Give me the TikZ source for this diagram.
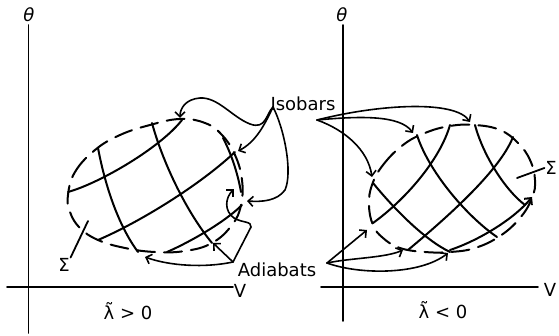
\documentclass[tikz,border=0pt]{standalone}
\usepackage{fontspec}
\setmainfont{DejaVu Sans}
\usetikzlibrary{arrows.meta}
\begin{document}
\begin{tikzpicture}[x=1pt,y=-1pt,line width=1.8pt,line cap=round,
      every node/.style={font=\fontsize{18}{21}\selectfont,inner sep=0pt},
      gridline/.style={line width=2pt},
      border/.style={line width=2pt,dash pattern=on 18pt off 9pt},
      arrow/.style={-{Straight Barb[length=5pt,width=10pt]},line width=1.6pt}]
  \useasboundingbox (0,0) rectangle (559,336);
  % axes
  \draw (7,287) -- (233,287);
  \draw (28.5,25) -- (28.5,333);
  \draw (321,287) -- (538,287);
  \draw (343,25) -- (343,321);
  \node (thetaL) at (29,15) {\textit{θ}};
  \node (thetaR) at (342,15) {\textit{θ}};
  \node (vL) at (240,291) {V};
  \node (vR) at (550,290) {V};
  \node (lamL) at (128,311) {λ̃ > 0};
  \node (lamR) at (443,310) {λ̃ < 0};
  % left surface
  \draw[border] plot[smooth cycle,tension=0.7] coordinates {(68,195) (75,172) (95,150) (120,135) (150,125) (180,119) (205,123) (222,135) (235,155) (242,180) (241,205) (232,225) (212,243) (185,251) (155,252) (125,248) (98,240) (80,228) (70,212)};
  \draw[gridline] (68,192) .. controls (100,183) and (160,148) .. (182,120);
  \draw[gridline] (98,240) .. controls (140,222) and (200,185) .. (235,152);
  \draw[gridline] (167,252) .. controls (190,242) and (225,222) .. (242,205);
  \draw[gridline] (98,148) .. controls (105,185) and (118,225) .. (138,252);
  \draw[gridline] (152,123) .. controls (162,160) and (185,210) .. (212,243);
  \draw[gridline] (223,138) .. controls (232,155) and (238,175) .. (241,192);
  % right surface
  \draw[border] plot[smooth cycle,tension=0.7] coordinates {(372,185) (383,165) (403,145) (425,133) (450,126) (475,125) (500,130) (518,143) (530,160) (535,180) (532,198) (520,218) (500,236) (475,248) (450,252) (425,252) (400,248) (383,238) (373,225) (369,205)};
  \draw[gridline] (373,223) .. controls (405,200) and (440,160) .. (450,125);
  \draw[gridline] (408,250) .. controls (450,215) and (500,170) .. (513,137);
  \draw[gridline,arrow,line width=2pt] (450,250) .. controls (480,240) and (515,218) .. (532,197);
  \draw[gridline] (373,183) .. controls (395,210) and (425,240) .. (450,252);
  \draw[gridline] (417,135) .. controls (428,170) and (465,215) .. (497,237);
  \draw[gridline] (475,125) .. controls (483,155) and (505,190) .. (525,205);
  % labels
  \node (iso) at (303,104) {Isobars};
  \node (adi) at (277,270) {Adiabats};
  \node (sigL) at (64,265) {Σ};
  \node (sigR) at (551,168) {Σ};
  \coordinate (isoL) at (273,107);
  \coordinate (isoR) at (317,120);
  \coordinate (adiL) at (233,262);
  \coordinate (adiR) at (327,263);
  \coordinate (sigLend) at (88,221);
  \coordinate (sigRend) at (517,178);
  % pointers
  \draw[arrow] (isoL) .. controls (266,114) and (266,130) .. (250,124) .. controls (232,117) and (218,97) .. (200,98) .. controls (186,99) and (180,108) .. (180,118);
  \draw[arrow] (isoL) .. controls (265,124) and (256,142) .. (238,151);
  \draw[arrow] (isoL) .. controls (284,128) and (293,172) .. (285,190) .. controls (277,201) and (262,202) .. (247,201);
  \draw[arrow] (isoR) .. controls (380,104) and (455,100) .. (470,122);
  \draw[arrow] (isoR) .. controls (360,116) and (400,115) .. (413,133);
  \draw[arrow] (isoR) .. controls (345,130) and (368,150) .. (372,177);
  \draw[arrow] (adiL) .. controls (205,268) and (170,266) .. (145,257);
  \draw[arrow] (adiL) -- (213,243);
  \draw[arrow] (adiL) -- (251,227) .. controls (252,221) and (242,223) .. (234,218) .. controls (224,211) and (225,198) .. (234,189);
  \draw[arrow] (adiR) -- (367,230);
  \draw[arrow] (adiR) .. controls (350,258) and (385,258) .. (403,250);
  \draw[arrow] (adiR) .. controls (360,275) and (420,275) .. (448,253);
  \draw (sigL.north east) -- (sigLend);
  \draw (sigR.west) -- (sigRend);
\end{tikzpicture}
\end{document}
